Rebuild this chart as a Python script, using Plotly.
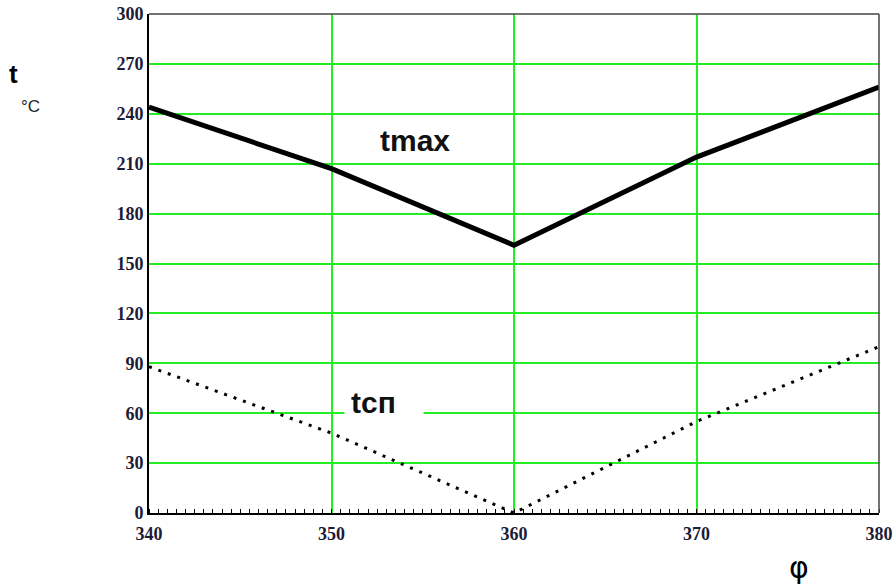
import plotly.graph_objects as go

# Crank angle (deg) and temperatures (°C)
phi = [340, 350, 360, 370, 380]
t_max = [244, 207, 161, 214, 256]
t_sp = [88, 48, 0, 55, 100]

x_ticks = [340, 350, 360, 370, 380]
y_ticks = [0, 30, 60, 90, 120, 150, 180, 210, 240, 270, 300]

grid_green = "#22ee22"
tick_font = dict(family="Liberation Serif", size=18, color="#1c1c38", weight="bold")

fig = go.Figure()

fig.add_trace(go.Scatter(
    x=phi, y=t_sp, mode="lines",
    line=dict(color="black", width=3, dash="3px,7px"),
    showlegend=False, hoverinfo="skip",
))
fig.add_trace(go.Scatter(
    x=phi, y=t_max, mode="lines",
    line=dict(color="black", width=5),
    showlegend=False, hoverinfo="skip",
))

fig.update_layout(
    width=896, height=587,
    margin=dict(l=149, r=17, t=14, b=74),
    paper_bgcolor="white", plot_bgcolor="white",
    showlegend=False,
    xaxis=dict(
        range=[340, 380], tickmode="array", tickvals=x_ticks,
        ticktext=[str(v) for v in x_ticks], automargin=False,
        showgrid=True, gridcolor=grid_green, gridwidth=1.5,
        zeroline=False, showline=True, linecolor="black", linewidth=2,
        ticks="", tickfont=tick_font, ticklabelstandoff=3,
        minor=dict(dtick=0.5, ticks="inside", ticklen=4, tickcolor="black",
                   tickwidth=1, showgrid=False),
    ),
    yaxis=dict(
        range=[0, 300], tickmode="array", tickvals=y_ticks,
        ticktext=[str(v) for v in y_ticks], automargin=False,
        showgrid=True, gridcolor=grid_green, gridwidth=1.5,
        zeroline=False, showline=True, linecolor="black", linewidth=2,
        ticks="", tickfont=tick_font,
    ),
)

# thin frame on top and right
fig.add_shape(type="line", xref="paper", yref="paper", x0=0, x1=1, y0=1, y1=1,
              line=dict(color="#444444", width=1.5))
fig.add_shape(type="line", xref="paper", yref="paper", x0=1, x1=1, y0=0, y1=1,
              line=dict(color="#444444", width=1.5))

label_font = dict(family="Liberation Sans, Arial, sans-serif", size=30, color="#111111",
                  weight="bold")

fig.add_annotation(x=354.6, y=224, xref="x", yref="y", text="tmax", showarrow=False,
                   xanchor="center", yanchor="middle", font=label_font)
fig.add_annotation(x=350.7, y=66.5, xref="x", yref="y", text="&#8201;tсп", showarrow=False,
                   xanchor="left", yanchor="middle", align="left", font=label_font,
                   bgcolor="white", borderpad=0, width=78)

# axis symbols
fig.add_annotation(x=-0.185, y=0.88, xref="paper", yref="paper", text="<b>t</b>", showarrow=False,
                   xanchor="center", yanchor="middle",
                   font=dict(family="Liberation Sans, Arial, sans-serif", size=26, color="black"))
fig.add_annotation(x=-0.163, y=0.815, xref="paper", yref="paper", text="°C", showarrow=False,
                   xanchor="center", yanchor="middle",
                   font=dict(family="Liberation Sans, Arial, sans-serif", size=17,
                             color="#222222"))
fig.add_annotation(x=0.89, y=-0.11, xref="paper", yref="paper", text="φ", showarrow=False,
                   xanchor="center", yanchor="middle",
                   font=dict(family="DejaVu Sans, sans-serif", size=30, color="black"))

fig.write_html("out.html")
